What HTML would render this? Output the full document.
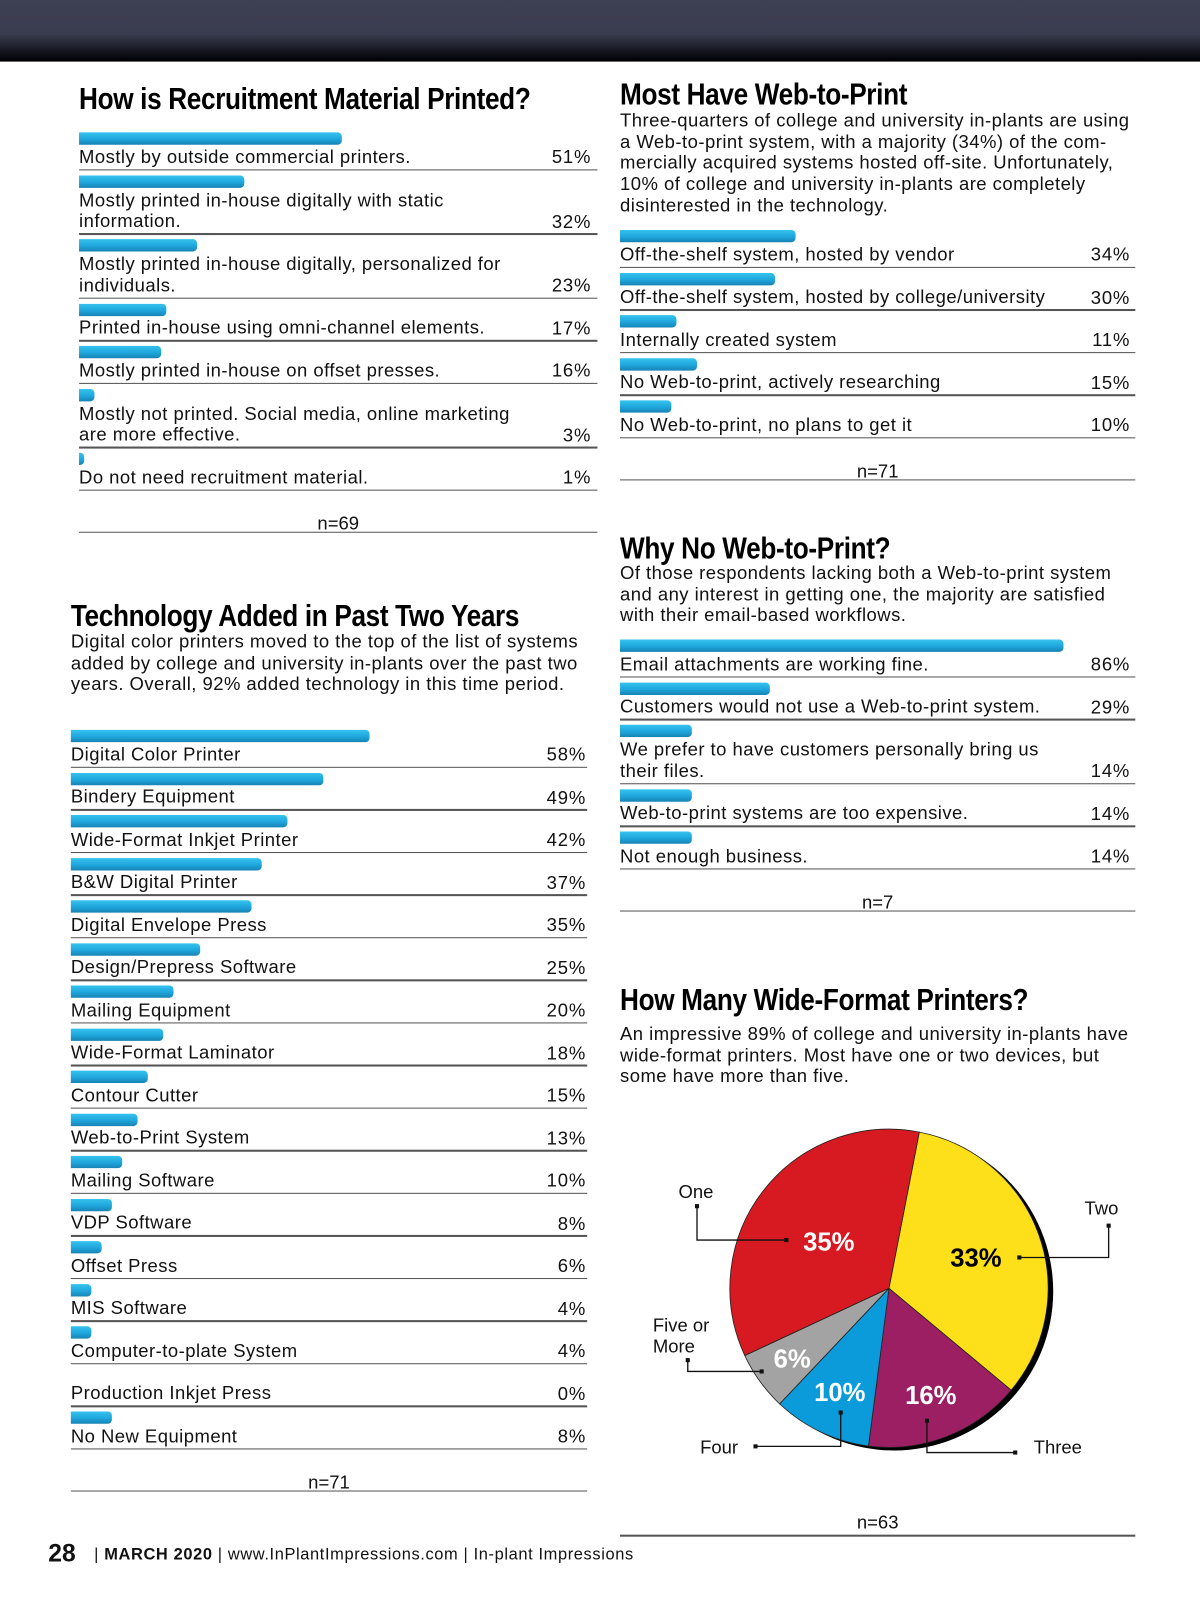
<!DOCTYPE html>
<html><head><meta charset="utf-8">
<style>
html,body{margin:0;padding:0;background:#fff;}
body{width:1200px;height:1609px;overflow:hidden;position:relative;}
#stage{position:absolute;left:0;top:0;width:1169px;height:1568px;transform:scale(1.02652);transform-origin:0 0;font-family:"Liberation Sans",sans-serif;color:#111;}
#hdr{position:absolute;left:0;top:0;width:1169px;height:60px;background:linear-gradient(#3d4052 0%,#3a3d4f 55%,#0c0d14 90%,#000 100%);}
.t{position:absolute;font-family:"Liberation Sans",sans-serif;font-weight:bold;font-size:30px;letter-spacing:-0.4px;white-space:nowrap;color:#000;transform:scaleX(0.85);transform-origin:0 0;}
.d{position:absolute;font-size:18px;line-height:20.7px;white-space:nowrap;letter-spacing:0.45px;}
.lbl{position:absolute;font-size:18px;line-height:20.7px;white-space:nowrap;letter-spacing:0.45px;}
.pct{position:absolute;font-size:18px;line-height:20.7px;text-align:right;letter-spacing:0.8px;}
.rule{position:absolute;height:1.5px;background:#555;}
.bar{position:absolute;height:12px;background:linear-gradient(#35c3ef,#1fa6dc 55%,#1783b5);border-radius:0 4px 4px 0;}
.n{position:absolute;font-size:18px;text-align:center;}
#foot{position:absolute;left:47px;top:1500px;white-space:nowrap;font-size:16px;letter-spacing:0.6px;}
</style></head><body>
<div id="stage">
<div id="hdr"></div>

<div class="t" style="left:77px;top:80px;">How is Recruitment Material Printed?</div>
<div id="sec1"></div>

<div class="t" style="left:69px;top:584px;">Technology Added in Past Two Years</div>
<div class="d" style="left:69px;top:615px;">Digital color printers moved to the top of the list of systems<br>added by college and university in-plants over the past two<br>years. Overall, 92% added technology in this time period.</div>
<div id="sec2"></div>

<div class="t" style="left:604px;top:76px;">Most Have Web-to-Print</div>
<div class="d" style="left:604px;top:107px;">Three-quarters of college and university in-plants are using<br>a Web-to-print system, with a majority (34%) of the com-<br>mercially acquired systems hosted off-site. Unfortunately,<br>10% of college and university in-plants are completely<br>disinterested in the technology.</div>
<div id="sec3"></div>

<div class="t" style="left:604px;top:518px;">Why No Web-to-Print?</div>
<div class="d" style="left:604px;top:548px;">Of those respondents lacking both a Web-to-print system<br>and any interest in getting one, the majority are satisfied<br>with their email-based workflows.</div>
<div id="sec4"></div>

<div class="t" style="left:604px;top:958px;">How Many Wide-Format Printers?</div>
<div class="d" style="left:604px;top:997px;">An impressive 89% of college and university in-plants have<br>wide-format printers. Most have one or two devices, but<br>some have more than five.</div>
<svg id="pie" width="1169" height="1568" style="position:absolute;left:0;top:0;"></svg>
<div class="n" style="left:604px;width:502px;top:1473px;">n=63</div>
<div class="rule" style="left:604px;width:502px;top:1495px;"></div>

<div id="foot"><b style="font-size:24px;vertical-align:-2px;letter-spacing:0;">28</b><span style="margin-left:18px;">| <b>MARCH 2020</b> | www.InPlantImpressions.com | In-plant Impressions</span></div>
</div>

<script>
const recLabels=["Mostly by outside commercial printers.","Mostly printed in-house digitally with static<br>information.","Mostly printed in-house digitally, personalized for<br>individuals.","Printed in-house using omni-channel elements.","Mostly printed in-house on offset presses.","Mostly not printed. Social media, online marketing<br>are more effective.","Do not need recruitment material."];
const recValues=[51,32,23,17,16,3,1];
const techLabels=["Digital Color Printer","Bindery Equipment","Wide-Format Inkjet Printer","B&amp;W Digital Printer","Digital Envelope Press","Design/Prepress Software","Mailing Equipment","Wide-Format Laminator","Contour Cutter","Web-to-Print System","Mailing Software","VDP Software","Offset Press","MIS Software","Computer-to-plate System","Production Inkjet Press","No New Equipment"];
const techValues=[58,49,42,37,35,25,20,18,15,13,10,8,6,4,4,0,8];
const w2pLabels=["Off-the-shelf system, hosted by vendor","Off-the-shelf system, hosted by college/university","Internally created system","No Web-to-print, actively researching","No Web-to-print, no plans to get it"];
const w2pValues=[34,30,11,15,10];
const whyLabels=["Email attachments are working fine.","Customers would not use a Web-to-print system.","We prefer to have customers personally bring us<br>their files.","Web-to-print systems are too expensive.","Not enough business."];
const whyValues=[86,29,14,14,14];
const pieLabels=["Two","Three","Four","Five or More","One"];
const pieValues=[33,16,10,6,35];

function barList(host,labels,values,x0,x1,top,nText,pctX){
  const scale=5.02;let y=top;
  labels.forEach((lab,i)=>{
    const lines=lab.split('<br>').length;
    const b=document.createElement('div');b.className='bar';
    
    
    b.style.left=x0+'px';b.style.top=y+'px';b.style.width=Math.max(values[i]*scale,values[i]>0?4:0)+'px';
    if(values[i]===0)b.style.display='none';
    host.appendChild(b);
    const line=y+14.5+21*lines;
    const l=document.createElement('div');l.className='lbl';
    
    
    l.innerHTML=lab;l.style.left=x0+'px';l.style.top=(line-20.7*lines-1)+'px';host.appendChild(l);
    const p=document.createElement('div');p.className='pct';
    
    
    p.textContent=values[i]+'%';p.style.left=(pctX-80)+'px';p.style.width='80px';p.style.top=(line-21.5)+'px';host.appendChild(p);
    const r=document.createElement('div');r.className='rule';
    
    
    r.style.left=x0+'px';r.style.width=(x1-x0)+'px';r.style.top=line+'px';host.appendChild(r);
    y=line+6;
  });
  const n=document.createElement('div');n.className='n';
  
  
  n.textContent=nText;n.style.left=x0+'px';n.style.width=(x1-x0)+'px';n.style.top=(y+17)+'px';host.appendChild(n);
  const r=document.createElement('div');r.className='rule';
  
  
  r.style.left=x0+'px';r.style.width=(x1-x0)+'px';r.style.top=(y+35)+'px';host.appendChild(r);
}
barList(document.getElementById('sec1'),recLabels,recValues,77,582,129,'n=69',576);
barList(document.getElementById('sec2'),techLabels,techValues,69,572,711,'n=71',571);
barList(document.getElementById('sec3'),w2pLabels,w2pValues,604,1106,224,'n=71',1101);
barList(document.getElementById('sec4'),whyLabels,whyValues,604,1106,623,'n=7',1101);

// pie
const svg=document.getElementById('pie');const NS='http://www.w3.org/2000/svg';
const cx=866,cy=1255,R=155,startDeg=11;
const pieColors=["#fde01a","#9c1f63","#0b9ada","#a3a3a3","#d71a21"];
const pctColors=["#000","#fff","#fff","#fff","#fff"];
function pt(deg,r){const a=(deg-90)*Math.PI/180;return [cx+r*Math.cos(a),cy+r*Math.sin(a)];}
const sh=document.createElementNS(NS,'circle');
sh.setAttribute('cx',cx+5);sh.setAttribute('cy',cy+3);sh.setAttribute('r',R);sh.setAttribute('fill','#000');


svg.appendChild(sh);
const total=pieValues.reduce((a,b)=>a+b,0);let ang=startDeg;const mids=[];
pieValues.forEach((v,i)=>{
  const sweep=v/total*360;const a0=ang,a1=ang+sweep;
  const p0=pt(a0,R),p1=pt(a1,R);
  const path=document.createElementNS(NS,'path');
  path.setAttribute('d',`M${cx},${cy} L${p0[0]},${p0[1]} A${R},${R} 0 ${sweep>180?1:0} 1 ${p1[0]},${p1[1]} Z`);
  path.setAttribute('fill',pieColors[i]);path.setAttribute('stroke','#222');path.setAttribute('stroke-width','0.8');
  
  
  svg.appendChild(path);
  mids.push(a0+sweep/2);ang=a1;
});
const rFrac=[0.58,0.72,0.72,0.75,0.48];
pieValues.forEach((v,i)=>{
  const p=pt(mids[i],R*rFrac[i]);
  const t=document.createElementNS(NS,'text');
  t.setAttribute('x',p[0]);t.setAttribute('y',p[1]+9);t.setAttribute('text-anchor','middle');
  t.setAttribute('font-family','Liberation Sans, sans-serif');t.setAttribute('font-weight','bold');t.setAttribute('font-size','25');
  t.setAttribute('fill',pctColors[i]);t.textContent=v+'%';
  
  
  svg.appendChild(t);
});
const leaders=[
 {pts:"1080,1194 1080,1225 993,1225",lx:1073,ly:1183,lab:["Two"],anchor:"middle"},
 {pts:"903,1384 903,1415 989,1415",lx:1007,ly:1416,lab:["Three"],anchor:"start"},
 {pts:"736,1409 819,1409 819,1376",lx:682,ly:1416,lab:["Four"],anchor:"start"},
 {pts:"670,1325 670,1336 742,1336",lx:636,ly:1297,lab:["Five or","More"],anchor:"start"},
 {pts:"679,1175 679,1208 766,1208",lx:678,ly:1167,lab:["One"],anchor:"middle"}
];
leaders.forEach((L,i)=>{
  const pl=document.createElementNS(NS,'polyline');
  pl.setAttribute('points',L.pts);pl.setAttribute('fill','none');pl.setAttribute('stroke','#111');pl.setAttribute('stroke-width','1.3');
  
  
  svg.appendChild(pl);
  const ps=L.pts.split(' ');[ps[0],ps[ps.length-1]].forEach(s=>{const [x,y]=s.split(',').map(Number);
    const r=document.createElementNS(NS,'rect');r.setAttribute('x',x-2);r.setAttribute('y',y-2);r.setAttribute('width',4);r.setAttribute('height',4);r.setAttribute('fill','#111');
    
    
    svg.appendChild(r);});
  L.lab.forEach((s,k)=>{
    const t=document.createElementNS(NS,'text');
    t.setAttribute('x',L.lx);t.setAttribute('y',L.ly+k*20.5);t.setAttribute('text-anchor',L.anchor);
    t.setAttribute('font-family','Liberation Sans, sans-serif');t.setAttribute('font-size','18');t.setAttribute('fill','#111');
    t.textContent=s;
    
    
    svg.appendChild(t);
  });
});
</script>
</body></html>
